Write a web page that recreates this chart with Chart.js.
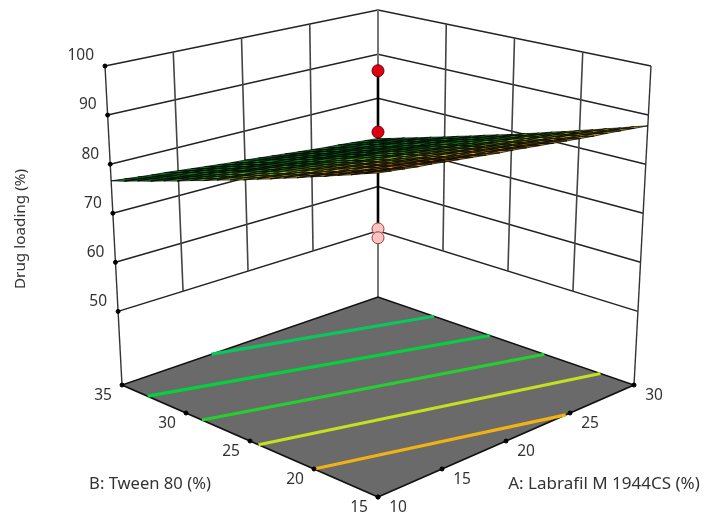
<!DOCTYPE html>
<html>
<head>
<meta charset="utf-8">
<style>
  html, body { margin: 0; padding: 0; background: #fff; }
  canvas { display: block; }
</style>
<script src="https://cdn.jsdelivr.net/npm/chart.js@4"></script>
</head>
<body>
<canvas id="surface" width="704" height="521"></canvas>
<script>
const aTicks = [10, 15, 20, 25, 30];
const bTicks = [15, 20, 25, 30, 35];
const zTicks = [50, 60, 70, 80, 90, 100];

// design points, all at the centre run A=20, B=25
const centreRuns = [99.8, 87.4, 67.8, 66.0];
const contourLevels = [89.3, 85.6, 81.9, 78.3, 74.6];

const aGrid = [10, 11, 12, 13, 14, 15, 16, 17, 18, 19, 20, 21, 22, 23, 24, 25, 26, 27, 28, 29, 30];
const bGrid = [15, 16, 17, 18, 19, 20, 21, 22, 23, 24, 25, 26, 27, 28, 29, 30, 31, 32, 33, 34, 35];
// one row per B, one column per A
const loading = [
  [93.5, 93.2, 92.9, 92.6, 92.4, 92.1, 91.8, 91.5, 91.2, 90.9, 90.7, 90.4, 90.1, 89.8, 89.5, 89.2, 88.9, 88.7, 88.4, 88.1, 87.8],
  [92.7, 92.4, 92.1, 91.8, 91.6, 91.3, 91.0, 90.7, 90.4, 90.1, 89.9, 89.6, 89.3, 89.0, 88.7, 88.4, 88.1, 87.9, 87.6, 87.3, 87.0],
  [91.8, 91.5, 91.2, 90.9, 90.7, 90.4, 90.1, 89.8, 89.5, 89.2, 89.0, 88.7, 88.4, 88.1, 87.8, 87.5, 87.2, 87.0, 86.7, 86.4, 86.1],
  [91.0, 90.7, 90.4, 90.1, 89.9, 89.6, 89.3, 89.0, 88.7, 88.4, 88.2, 87.9, 87.6, 87.3, 87.0, 86.7, 86.4, 86.2, 85.9, 85.6, 85.3],
  [90.1, 89.8, 89.5, 89.2, 89.0, 88.7, 88.4, 88.1, 87.8, 87.5, 87.3, 87.0, 86.7, 86.4, 86.1, 85.8, 85.5, 85.3, 85.0, 84.7, 84.4],
  [89.3, 89.0, 88.7, 88.4, 88.2, 87.9, 87.6, 87.3, 87.0, 86.7, 86.5, 86.2, 85.9, 85.6, 85.3, 85.0, 84.7, 84.5, 84.2, 83.9, 83.6],
  [88.4, 88.1, 87.8, 87.5, 87.3, 87.0, 86.7, 86.4, 86.1, 85.8, 85.6, 85.3, 85.0, 84.7, 84.4, 84.1, 83.8, 83.6, 83.3, 83.0, 82.7],
  [87.6, 87.3, 87.0, 86.7, 86.5, 86.2, 85.9, 85.6, 85.3, 85.0, 84.8, 84.5, 84.2, 83.9, 83.6, 83.3, 83.0, 82.8, 82.5, 82.2, 81.9],
  [86.7, 86.4, 86.1, 85.8, 85.6, 85.3, 85.0, 84.7, 84.4, 84.1, 83.9, 83.6, 83.3, 83.0, 82.7, 82.4, 82.1, 81.9, 81.6, 81.3, 81.0],
  [85.9, 85.6, 85.3, 85.0, 84.8, 84.5, 84.2, 83.9, 83.6, 83.3, 83.1, 82.8, 82.5, 82.2, 81.9, 81.6, 81.3, 81.1, 80.8, 80.5, 80.2],
  [85.0, 84.7, 84.4, 84.1, 83.9, 83.6, 83.3, 83.0, 82.7, 82.4, 82.2, 81.9, 81.6, 81.3, 81.0, 80.7, 80.4, 80.2, 79.9, 79.6, 79.3],
  [84.2, 83.9, 83.6, 83.3, 83.1, 82.8, 82.5, 82.2, 81.9, 81.6, 81.4, 81.1, 80.8, 80.5, 80.2, 79.9, 79.6, 79.4, 79.1, 78.8, 78.5],
  [83.4, 83.1, 82.8, 82.5, 82.3, 82.0, 81.7, 81.4, 81.1, 80.8, 80.6, 80.3, 80.0, 79.7, 79.4, 79.1, 78.8, 78.6, 78.3, 78.0, 77.7],
  [82.5, 82.2, 81.9, 81.6, 81.4, 81.1, 80.8, 80.5, 80.2, 79.9, 79.7, 79.4, 79.1, 78.8, 78.5, 78.2, 77.9, 77.7, 77.4, 77.1, 76.8],
  [81.7, 81.4, 81.1, 80.8, 80.6, 80.3, 80.0, 79.7, 79.4, 79.1, 78.9, 78.6, 78.3, 78.0, 77.7, 77.4, 77.1, 76.9, 76.6, 76.3, 76.0],
  [80.8, 80.5, 80.2, 79.9, 79.7, 79.4, 79.1, 78.8, 78.5, 78.2, 78.0, 77.7, 77.4, 77.1, 76.8, 76.5, 76.2, 76.0, 75.7, 75.4, 75.1],
  [80.0, 79.7, 79.4, 79.1, 78.9, 78.6, 78.3, 78.0, 77.7, 77.4, 77.2, 76.9, 76.6, 76.3, 76.0, 75.7, 75.4, 75.2, 74.9, 74.6, 74.3],
  [79.1, 78.8, 78.5, 78.2, 78.0, 77.7, 77.4, 77.1, 76.8, 76.5, 76.3, 76.0, 75.7, 75.4, 75.1, 74.8, 74.5, 74.3, 74.0, 73.7, 73.4],
  [78.3, 78.0, 77.7, 77.4, 77.2, 76.9, 76.6, 76.3, 76.0, 75.7, 75.5, 75.2, 74.9, 74.6, 74.3, 74.0, 73.7, 73.5, 73.2, 72.9, 72.6],
  [77.4, 77.1, 76.8, 76.5, 76.3, 76.0, 75.7, 75.4, 75.1, 74.8, 74.6, 74.3, 74.0, 73.7, 73.4, 73.1, 72.8, 72.6, 72.3, 72.0, 71.7],
  [76.6, 76.3, 76.0, 75.7, 75.5, 75.2, 74.9, 74.6, 74.3, 74.0, 73.8, 73.5, 73.2, 72.9, 72.6, 72.3, 72.0, 71.8, 71.5, 71.2, 70.9]
];

// the box on screen: corners of the floor and of the z=100 plane
const zFloor = 35, zTop = 100;
const floorBox = { front: [378, 497], right: [634, 385], left: [122, 385], back: [378, 297] };
const topBox = { front: [378, 137], right: [651, 66], left: [105, 66], back: [378, 10] };

function corner(box, u, v, k) {
  return box.front[k] * (1 - u) * (1 - v) + box.right[k] * u * (1 - v) +
         box.left[k] * (1 - u) * v + box.back[k] * u * v;
}

function project(a, b, z) {
  const u = (a - 10) / 20, v = (b - 15) / 20, w = (z - zFloor) / (zTop - zFloor);
  return {
    x: corner(floorBox, u, v, 0) * (1 - w) + corner(topBox, u, v, 0) * w,
    y: corner(floorBox, u, v, 1) * (1 - w) + corner(topBox, u, v, 1) * w
  };
}

const contourColors = ['#f2b212', '#c4e01e', '#22d22c', '#04d23c', '#08c85c'];

function surfaceColor(z) {
  if (z > 89) return '#f0a010';
  if (z > 86) return '#e0c020';
  if (z > 83) return '#a8c81c';
  if (z > 80) return '#4aa81c';
  if (z > 76) return '#12861e';
  return '#0a7a24';
}

const datasets = [];

function addLine(points, color, width) {
  datasets.push({ data: points, borderColor: color, borderWidth: width, pointRadius: 0, fill: false });
}

function addShape(points, fillColor, lineColor, width) {
  datasets.push({
    data: points.concat([points[0]]),
    borderColor: lineColor, borderWidth: width, backgroundColor: fillColor,
    pointRadius: 0, fill: 'shape'
  });
}

function addDots(points, fillColor, lineColor, radius) {
  datasets.push({
    data: points, showLine: false, pointRadius: radius, pointBorderWidth: 1,
    pointBackgroundColor: fillColor, pointBorderColor: lineColor
  });
}

const aMin = aTicks[0], aMax = aTicks[4], bMin = bTicks[0], bMax = bTicks[4];

// back walls
zTicks.forEach(z => {
  addLine([project(aMin, bMax, z), project(aMax, bMax, z), project(aMax, bMin, z)], '#222', 1.5);
});
aTicks.slice(1, 4).forEach(a => {
  addLine([project(a, bMax, zTicks[0]), project(a, bMax, zTop)], '#444', 1.6);
});
bTicks.slice(1, 4).forEach(b => {
  addLine([project(aMax, b, zTicks[0]), project(aMax, b, zTop)], '#444', 1.6);
});
addLine([project(aMin, bMax, zFloor), project(aMin, bMax, zTop)], '#333', 1.4);
addLine([project(aMax, bMin, zFloor), project(aMax, bMin, zTop)], '#333', 1.4);
addLine([project(aMax, bMax, zFloor), project(aMax, bMax, zTop)], '#777', 2);

// floor
addShape([project(aMin, bMin, zFloor), project(aMax, bMin, zFloor), project(aMax, bMax, zFloor), project(aMin, bMax, zFloor)],
  '#6a6a6a', '#111', 1.6);

// contours on the floor, from where each level enters the table to where it leaves
contourLevels.forEach((level, n) => {
  const pts = [];
  const rowCross = j => {
    for (let i = 0; i < aGrid.length - 1; i++) {
      const z0 = loading[j][i], z1 = loading[j][i + 1];
      if ((z0 - level) * (z1 - level) <= 0) {
        pts.push(project(aGrid[i] + (z0 - level) / (z0 - z1), bGrid[j], zFloor));
      }
    }
  };
  rowCross(0);
  aGrid.forEach((a, i) => {
    for (let j = 0; j < bGrid.length - 1; j++) {
      const z0 = loading[j][i], z1 = loading[j + 1][i];
      if (z0 >= level && z1 < level) {
        pts.push(project(a, bGrid[j] + (z0 - level) / (z0 - z1), zFloor));
      }
    }
  });
  rowCross(bGrid.length - 1);
  pts.sort((p, q) => p.x - q.x);
  addLine([pts[0], pts[pts.length - 1]], contourColors[n], 3.2);
});

// line through the centre runs, the surface then covers its middle
addLine([project(20, 25, centreRuns[0]), project(20, 25, centreRuns[3])], '#000', 2.6);

// surface mesh, back cells first
for (let j = bGrid.length - 2; j >= 0; j--) {
  for (let i = aGrid.length - 2; i >= 0; i--) {
    const mean = (loading[j][i] + loading[j][i + 1] + loading[j + 1][i] + loading[j + 1][i + 1]) / 4;
    addShape([
      project(aGrid[i], bGrid[j], loading[j][i]),
      project(aGrid[i + 1], bGrid[j], loading[j][i + 1]),
      project(aGrid[i + 1], bGrid[j + 1], loading[j + 1][i + 1]),
      project(aGrid[i], bGrid[j + 1], loading[j + 1][i])
    ], surfaceColor(mean), 'rgba(0,0,0,0.85)', 0.9);
  }
}

// tick dots
addDots(zTicks.map(z => project(aMin, bMax, z)).concat(
  bTicks.map(b => project(aMin, b, zFloor)),
  aTicks.map(a => project(a, bMin, zFloor))), '#000', '#000', 2);

// centre runs above and below the surface
centreRuns.forEach(z => {
  const above = z > loading[10][10];
  addDots([project(20, 25, z)], above ? '#dc0010' : '#fcc4c0', above ? '#700008' : '#904040', 6);
});

const axisText = {
  id: 'axisText',
  afterDraw(chart) {
    const { ctx, scales } = chart;
    const put = (text, p, dx, dy, align) => {
      ctx.textAlign = align;
      ctx.fillText(text, scales.x.getPixelForValue(p.x) + dx, scales.y.getPixelForValue(p.y) + dy);
    };
    ctx.save();
    ctx.fillStyle = '#333';
    ctx.textBaseline = 'middle';
    ctx.font = '15.5px "Noto Sans"';
    zTicks.forEach(z => put(String(z), project(aMin, bMax, z), -11, -10, 'right'));
    bTicks.forEach(b => put(String(b), project(aMin, b, zFloor), -19, 11, 'center'));
    aTicks.forEach(a => put(String(a), project(a, bMin, zFloor), 20, 11, 'center'));
    ctx.textAlign = 'center';
    ctx.font = '16.6px "Noto Sans"';
    ctx.fillText('B: Tween 80 (%)', 150, 484);
    ctx.font = '17px "Noto Sans"';
    ctx.fillText('A: Labrafil M 1944CS (%)', 604, 484);
    ctx.font = '15.3px "Noto Sans"';
    ctx.translate(21, 229);
    ctx.rotate(-Math.PI / 2);
    ctx.fillText('Drug loading (%)', 0, 0);
    ctx.restore();
  }
};

new Chart(document.getElementById('surface'), {
  type: 'line',
  // the library paints the first dataset last
  data: { datasets: datasets.reverse() },
  options: {
    responsive: false,
    animation: false,
    layout: { padding: 0, autoPadding: false },
    elements: { line: { tension: 0 } },
    scales: {
      x: { type: 'linear', min: 0, max: 704, display: false },
      y: { type: 'linear', min: 0, max: 521, reverse: true, display: false }
    },
    plugins: { legend: { display: false }, tooltip: { enabled: false } }
  },
  plugins: [axisText]
});
</script>
</body>
</html>
